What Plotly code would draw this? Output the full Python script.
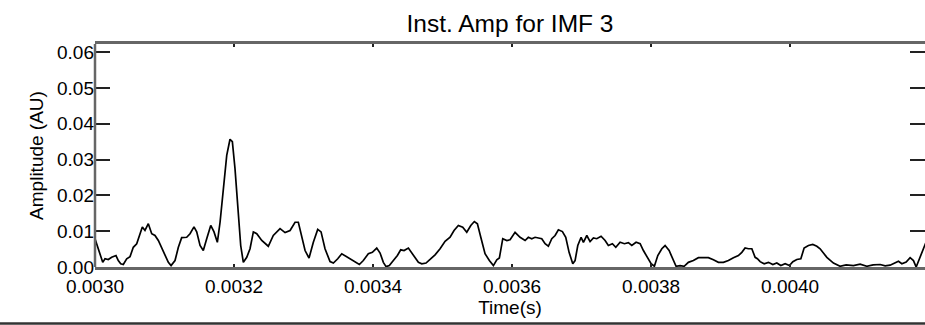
import plotly.graph_objects as go

time_s = [
    0.0030000, 0.0030033, 0.0030072, 0.0030111, 0.0030144, 0.0030191, 0.0030240, 0.0030302,
    0.0030335, 0.0030370, 0.0030407, 0.0030456, 0.0030504, 0.0030551, 0.0030600, 0.0030647,
    0.0030681, 0.0030719, 0.0030767, 0.0030816, 0.0030863, 0.0030911, 0.0030983, 0.0031055,
    0.0031094, 0.0031151, 0.0031199, 0.0031247, 0.0031319, 0.0031367, 0.0031424, 0.0031463,
    0.0031511, 0.0031558, 0.0031607, 0.0031665, 0.0031712, 0.0031760, 0.0031799, 0.0031846,
    0.0031895, 0.0031942, 0.0031976, 0.0032014, 0.0032062, 0.0032096, 0.0032134, 0.0032183,
    0.0032230, 0.0032278, 0.0032327, 0.0032399, 0.0032493, 0.0032565, 0.0032662, 0.0032734,
    0.0032806, 0.0032878, 0.0032925, 0.0032974, 0.0033022, 0.0033079, 0.0033141, 0.0033204,
    0.0033252, 0.0033309, 0.0033381, 0.0033429, 0.0033492, 0.0033550, 0.0033621, 0.0033693,
    0.0033751, 0.0033803, 0.0033860, 0.0033932, 0.0033990, 0.0034053, 0.0034101, 0.0034148,
    0.0034187, 0.0034234, 0.0034292, 0.0034350, 0.0034398, 0.0034446, 0.0034508, 0.0034580,
    0.0034652, 0.0034701, 0.0034762, 0.0034820, 0.0034892, 0.0034964, 0.0035036, 0.0035108,
    0.0035165, 0.0035227, 0.0035290, 0.0035348, 0.0035406, 0.0035457, 0.0035501, 0.0035550,
    0.0035611, 0.0035673, 0.0035731, 0.0035780, 0.0035817, 0.0035866, 0.0035924, 0.0035971,
    0.0036043, 0.0036115, 0.0036187, 0.0036234, 0.0036283, 0.0036331, 0.0036378, 0.0036427,
    0.0036475, 0.0036522, 0.0036571, 0.0036619, 0.0036666, 0.0036724, 0.0036772, 0.0036820,
    0.0036873, 0.0036906, 0.0036945, 0.0036993, 0.0037026, 0.0037075, 0.0037122, 0.0037170,
    0.0037218, 0.0037280, 0.0037338, 0.0037385, 0.0037443, 0.0037492, 0.0037554, 0.0037616,
    0.0037673, 0.0037722, 0.0037784, 0.0037842, 0.0037889, 0.0037952, 0.0038000, 0.0038047,
    0.0038096, 0.0038154, 0.0038201, 0.0038259, 0.0038321, 0.0038359, 0.0038417, 0.0038475,
    0.0038536, 0.0038608, 0.0038680, 0.0038752, 0.0038824, 0.0038896, 0.0038968, 0.0039040,
    0.0039112, 0.0039184, 0.0039256, 0.0039305, 0.0039352, 0.0039400, 0.0039449, 0.0039496,
    0.0039529, 0.0039568, 0.0039626, 0.0039688, 0.0039751, 0.0039808, 0.0039866, 0.0039928,
    0.0039990, 0.0040039, 0.0040096, 0.0040154, 0.0040201, 0.0040263, 0.0040326, 0.0040384,
    0.0040431, 0.0040528, 0.0040623, 0.0040719, 0.0040805, 0.0040910, 0.0041007, 0.0041103,
    0.0041194, 0.0041295, 0.0041367, 0.0041438, 0.0041496, 0.0041558, 0.0041607, 0.0041669,
    0.0041726, 0.0041774, 0.0041813, 0.0041860, 0.0041918, 0.0041956,
]

amplitude_au = [
    0.0079, 0.0060, 0.0032, 0.0013, 0.0023, 0.0021, 0.0027, 0.0032,
    0.0018, 0.0009, 0.0007, 0.0023, 0.0029, 0.0055, 0.0065, 0.0093,
    0.0112, 0.0102, 0.0121, 0.0093, 0.0088, 0.0074, 0.0041, 0.0013,
    0.0004, 0.0018, 0.0055, 0.0082, 0.0083, 0.0093, 0.0112, 0.0098,
    0.0060, 0.0046, 0.0079, 0.0116, 0.0098, 0.0069, 0.0125, 0.0228,
    0.0312, 0.0357, 0.0350, 0.0275, 0.0135, 0.0060, 0.0013, 0.0027,
    0.0051, 0.0098, 0.0093, 0.0074, 0.0058, 0.0088, 0.0107, 0.0096,
    0.0102, 0.0125, 0.0125, 0.0088, 0.0046, 0.0025, 0.0069, 0.0105,
    0.0098, 0.0051, 0.0015, 0.0011, 0.0023, 0.0037, 0.0029, 0.0020,
    0.0015, 0.0007, 0.0018, 0.0037, 0.0041, 0.0053, 0.0039, 0.0013,
    0.0001, 0.0004, 0.0018, 0.0032, 0.0048, 0.0046, 0.0053, 0.0032,
    0.0013, 0.0009, 0.0011, 0.0021, 0.0034, 0.0051, 0.0072, 0.0083,
    0.0102, 0.0116, 0.0111, 0.0097, 0.0116, 0.0127, 0.0121, 0.0083,
    0.0037, 0.0018, 0.0004, 0.0020, 0.0025, 0.0079, 0.0074, 0.0076,
    0.0097, 0.0083, 0.0074, 0.0083, 0.0079, 0.0083, 0.0081, 0.0079,
    0.0065, 0.0058, 0.0079, 0.0088, 0.0104, 0.0099, 0.0083, 0.0041,
    0.0009, 0.0018, 0.0060, 0.0083, 0.0069, 0.0088, 0.0071, 0.0081,
    0.0079, 0.0086, 0.0074, 0.0060, 0.0065, 0.0055, 0.0069, 0.0065,
    0.0068, 0.0060, 0.0069, 0.0065, 0.0046, 0.0023, 0.0009, 0.0002,
    0.0032, 0.0051, 0.0060, 0.0046, 0.0018, 0.0002, 0.0004, 0.0002,
    0.0013, 0.0018, 0.0026, 0.0027, 0.0026, 0.0020, 0.0013, 0.0013,
    0.0018, 0.0026, 0.0032, 0.0041, 0.0053, 0.0051, 0.0051, 0.0027,
    0.0023, 0.0015, 0.0009, 0.0013, 0.0007, 0.0011, 0.0004, 0.0009,
    0.0004, 0.0015, 0.0021, 0.0023, 0.0053, 0.0060, 0.0063, 0.0058,
    0.0051, 0.0027, 0.0011, 0.0002, 0.0006, 0.0004, 0.0008, 0.0002,
    0.0006, 0.0007, 0.0003, 0.0005, 0.0011, 0.0016, 0.0009, 0.0014,
    0.0026, 0.0018, 0.0000, 0.0023, 0.0055, 0.0070,
]

x_ticks = [0.0030, 0.0032, 0.0034, 0.0036, 0.0038, 0.0040]
x_tick_labels = ["0.0030", "0.0032", "0.0034", "0.0036", "0.0038", "0.0040"]
y_ticks = [0.00, 0.01, 0.02, 0.03, 0.04, 0.05, 0.06]
y_tick_labels = ["0.00", "0.01", "0.02", "0.03", "0.04", "0.05", "0.06"]

FONT = "Liberation Sans, Arial, Helvetica, sans-serif"

fig = go.Figure()
fig.add_trace(go.Scatter(
    x=time_s, y=amplitude_au, mode="lines",
    line=dict(color="black", width=1.7),
    showlegend=False, hoverinfo="skip",
))

fig.update_layout(
    width=925, height=325, autosize=False,
    margin=dict(l=95, r=0, t=44, b=58, pad=0),
    paper_bgcolor="white", plot_bgcolor="white",
    font=dict(family=FONT, color="black", size=19),
    title=dict(text="Inst. Amp for IMF 3", x=0.5, xref="paper", xanchor="center",
               y=1 - 23 / 325, yref="container", yanchor="middle",
               font=dict(family=FONT, size=24.5, color="black")),
    xaxis=dict(
        range=[0.0030, 0.004194],
        tickmode="array", tickvals=x_ticks, ticktext=x_tick_labels,
        ticks="inside", ticklen=3, tickwidth=1.5, tickcolor="#222",
        showline=True, linecolor="#666", linewidth=2.5, mirror="ticks",
        showgrid=False, zeroline=False,
        tickfont=dict(size=19),
        title=dict(text="Time(s)", font=dict(size=19), standoff=1),
    ),
    yaxis=dict(
        range=[0.0, 0.0623],
        tickmode="array", tickvals=y_ticks, ticktext=y_tick_labels,
        ticks="inside", ticklen=15, tickwidth=2, tickcolor="#222",
        showline=False, mirror="ticks",
        showgrid=False, zeroline=False,
        tickfont=dict(size=19),
        title=dict(text="Amplitude (AU)", font=dict(size=19), standoff=8),
    ),
    shapes=[
        dict(type="line", xref="paper", yref="paper",
             x0=0, x1=0, y0=0, y1=1,
             line=dict(color="#666", width=2.5)),
        dict(type="line", xref="paper", yref="paper",
             x0=-0.2, x1=1.05, y0=-56.5 / 223, y1=-56.5 / 223,
             line=dict(color="#333", width=2.5)),
    ],
)

fig.write_html("out.html")
